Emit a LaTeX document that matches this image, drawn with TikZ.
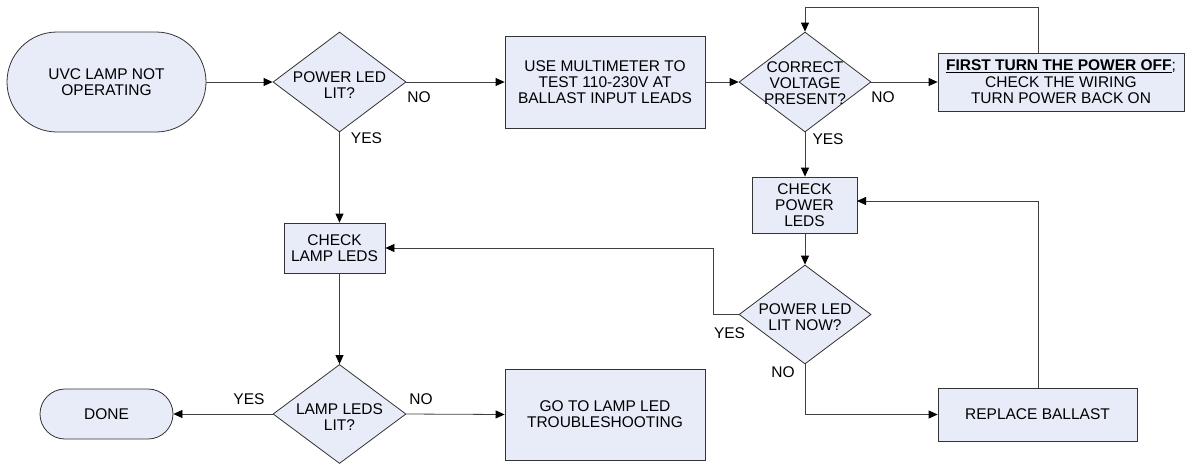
\documentclass[tikz,border=0pt]{standalone}
\usepackage{fontspec}
\setmainfont{Liberation Sans}
\usetikzlibrary{shapes.geometric,arrows.meta}
\definecolor{boxfill}{HTML}{E8ECF8}
\definecolor{edgecol}{HTML}{333333}
\definecolor{wirecol}{HTML}{404040}
\newcommand\flowfont{\fontsize{15.5}{15.8}\selectfont}
\begin{document}
\begin{tikzpicture}[x=1pt,y=-1pt,
  base/.style={draw=edgecol, fill=boxfill, line width=0.8pt, align=center, inner sep=0pt, font=\flowfont},
  procbox/.style={base, rectangle},
  termbox/.style={base, rectangle},
  dec/.style={base, diamond},
  dtext/.style={align=center, font=\flowfont, inner sep=0pt, yshift=-3pt},
  lbl/.style={font=\flowfont, inner sep=0pt},
  conn/.style={draw=wirecol, line width=0.8pt, -{Triangle[length=9pt,width=8pt,color=black]}},
  plain/.style={draw=wirecol, line width=0.8pt}
]
\useasboundingbox (0,0) rectangle (1185,464);

% nodes
\node[termbox, minimum width=199pt, minimum height=100pt, rounded corners=50pt] (start) at (106.5,82) {UVC LAMP NOT\\OPERATING};
\node[dec, minimum width=133pt, minimum height=100pt, label={[dtext]center:POWER LED\\LIT?}] (d1) at (339.5,82) {};
\node[procbox, minimum width=200pt, minimum height=92pt] (test) at (605,82) {USE MULTIMETER TO\\TEST 110-230V AT\\BALLAST INPUT LEADS};
\node[dec, minimum width=132pt, minimum height=100pt, label={[dtext, yshift=2pt]center:CORRECT\\VOLTAGE\\PRESENT?}] (d2) at (805,82) {};
\node[procbox, minimum width=246pt, minimum height=58pt] (wiring) at (1061,82) {\underline{\textbf{FIRST TURN THE POWER OFF}};\\[0.6pt]CHECK THE WIRING\\[0.6pt]TURN POWER BACK ON};
\node[procbox, minimum width=105pt, minimum height=56pt] (chkpwr) at (804.5,205) {CHECK\\POWER\\LEDS};
\node[dec, minimum width=132pt, minimum height=99pt, label={[dtext]center:POWER LED\\LIT NOW?}] (d3) at (805,314.5) {};
\node[procbox, minimum width=101pt, minimum height=50pt] (chklamp) at (334.5,248) {CHECK\\LAMP LEDS};
\node[dec, minimum width=133pt, minimum height=99pt, label={[dtext]center:LAMP LEDS\\LIT?}] (d4) at (339.5,414) {};
\node[termbox, minimum width=133pt, minimum height=50pt, rounded corners=25pt] (done) at (106.5,414) {DONE};
\node[procbox, minimum width=200pt, minimum height=91pt] (goto) at (605,414.5) {GO TO LAMP LED\\TROUBLESHOOTING};
\node[procbox, minimum width=199pt, minimum height=53pt] (repl) at (1037.5,414.5) {REPLACE BALLAST};

% helper coordinates
\coordinate (topturn) at (1038,7);
\coordinate (yesturn) at (713,248);
\coordinate (ballastin) at (857,201);

% connectors
\draw[conn] (start.east) -- (d1.west);
\draw[conn] (d1.east) -- (test.west);
\draw[conn] (test.east) -- (d2.west);
\draw[conn] (d2.east) -- (wiring.west);
\draw[conn] (wiring.north -| topturn) |- (topturn -| d2.north) -- (d2.north);
\draw[conn] (d2.south) -- (chkpwr.north -| d2.south);
\draw[conn] (chkpwr.south -| d3.north) -- (d3.north);
\draw[conn] (d3.south) |- (repl.west);
\draw[conn] (repl.north -| topturn) |- (ballastin);
\draw[conn] (d3.west) -| (yesturn) -- (chklamp.east |- yesturn);
\draw[conn] (d1.south) -- (d1.south |- chklamp.north);
\draw[conn] (chklamp.south -| d4.north) -- (d4.north);
\draw[conn] (d4.west) -- (done.east);
\draw[conn] (d4.east) -- (goto.west);

% labels
\node[lbl] (l1) at (419,97) {NO};
\node[lbl] (l2) at (366.5,138) {YES};
\node[lbl] (l3) at (883,97) {NO};
\node[lbl] (l4) at (828,139) {YES};
\node[lbl] (l5) at (729.5,333) {YES};
\node[lbl] (l6) at (783,372) {NO};
\node[lbl] (l7) at (249,399) {YES};
\node[lbl] (l8) at (421,399) {NO};
\end{tikzpicture}
\end{document}
